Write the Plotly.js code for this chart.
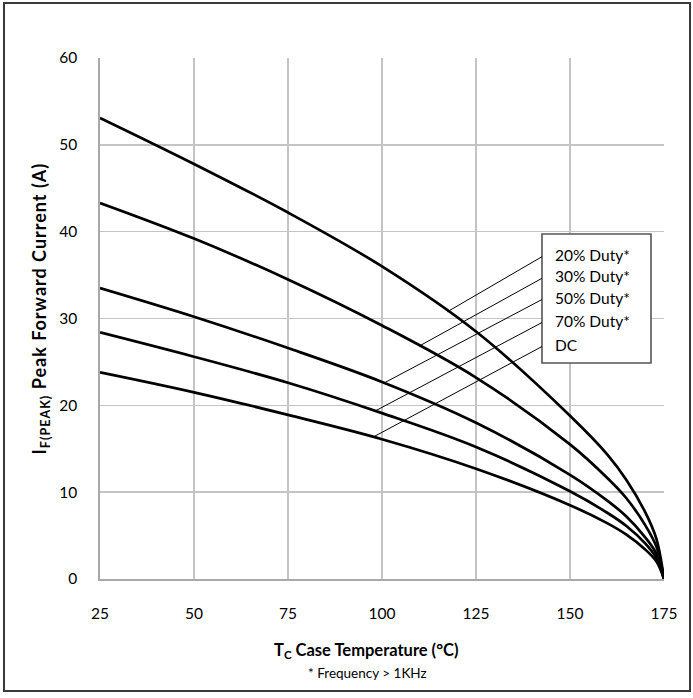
<!DOCTYPE html>
<html>
<head>
<meta charset="utf-8">
<script src="https://cdn.plot.ly/plotly-3.0.1.min.js"></script>
<style>html,body{margin:0;padding:0;background:#fff;}#chart{width:693px;height:698px;}</style>
</head>
<body>
<div id="chart"></div>
<script>
// Case temperature (°C)
const caseTemp = [25, 50, 75, 100, 125, 150, 160, 165, 170, 173, 175];
// Peak forward current (A) per duty cycle
const duty20 = [53.1, 47.8, 42.2, 36.0, 28.5, 18.8, 14.3, 11.4, 7.7, 4.6, 0];
const duty30 = [43.3, 39.2, 34.5, 29.2, 23.2, 15.5, 11.6, 9.3, 6.2, 3.7, 0];
const duty50 = [33.5, 30.2, 26.6, 22.7, 18.0, 12.0, 9.0, 7.2, 4.8, 2.9, 0];
const duty70 = [28.4, 25.6, 22.6, 19.1, 15.2, 10.1, 7.6, 6.1, 4.1, 2.4, 0];
const dutyDC = [23.8, 21.5, 18.9, 16.1, 12.7, 8.5, 6.4, 5.1, 3.4, 2.0, 0];
const seriesNames = ['20% Duty*', '30% Duty*', '50% Duty*', '70% Duty*', 'DC'];
const seriesData = [duty20, duty30, duty50, duty70, dutyDC];
const xTicks = [25, 50, 75, 100, 125, 150, 175];
const yTicks = [0, 10, 20, 30, 40, 50, 60];

const FONT = 'Lato, "Open Sans", sans-serif';

// layout geometry (pixels)
const W = 693, H = 698;
const PL = 100, PR = 664, PT = 58, PB = 579;
const xr = [25, 175], yr = [0, 60];
const px2x = p => xr[0] + (p - PL) * (xr[1] - xr[0]) / (PR - PL);
const py2y = p => yr[0] + (PB - p) * (yr[1] - yr[0]) / (PB - PT);
const px2paper = p => (p - PL) / (PR - PL);
const py2paper = p => (PB - p) / (PB - PT);

function interp(xs, ys, x) {
  for (let i = 0; i < xs.length - 1; i++) {
    if (x >= xs[i] && x <= xs[i + 1]) {
      const t = (x - xs[i]) / (xs[i + 1] - xs[i]);
      return ys[i] + t * (ys[i + 1] - ys[i]);
    }
  }
  return ys[ys.length - 1];
}

const traces = seriesData.map((d, i) => ({
  x: caseTemp, y: d, name: seriesNames[i], type: 'scatter', mode: 'lines',
  line: {color: '#000', width: 2.7, shape: 'spline', smoothing: 1},
  hoverinfo: 'x+y+name'
}));

// legend box & leaders
const boxL = 542, boxR = 651, boxT = 234, boxB = 363;
const entryPy = [256.7, 278.3, 299.5, 322.5, 346.5];
const leaderEndT = [117.4, 109.9, 100.6, 98.2, 97.7];

const shapes = [
  {type: 'rect', xref: 'x', yref: 'y', x0: px2x(boxL), x1: px2x(boxR), y0: py2y(boxB), y1: py2y(boxT),
   fillcolor: '#fff', line: {color: '#555', width: 1.6}, layer: 'above'},
  {type: 'rect', xref: 'paper', yref: 'paper', x0: px2paper(4), x1: px2paper(690), y0: py2paper(691), y1: py2paper(3),
   fillcolor: 'rgba(0,0,0,0)', line: {color: '#3a3a3a', width: 2}, layer: 'above'}
];
const annotations = [];
seriesData.forEach((d, i) => {
  const te = leaderEndT[i];
  shapes.push({type: 'line', xref: 'x', yref: 'y', x0: px2x(boxL), y0: py2y(entryPy[i]),
    x1: te, y1: interp(caseTemp, d, te), line: {color: '#000', width: 1}, layer: 'above'});
  annotations.push({xref: 'x', yref: 'y', x: px2x(553), y: py2y(entryPy[i] - 2), text: seriesNames[i],
    showarrow: false, xanchor: 'left', yanchor: 'middle', font: {family: FONT, size: 15.5, color: '#000'}});
});
annotations.push({xref: 'paper', yref: 'paper', x: px2paper(366), y: py2paper(650), xanchor: 'center', yanchor: 'middle',
  text: '<b>T<sub>C</sub> Case Temperature (°C)</b>', showarrow: false, font: {family: FONT, size: 16.5, color: '#000'}});
annotations.push({xref: 'paper', yref: 'paper', x: px2paper(367), y: py2paper(673), xanchor: 'center', yanchor: 'middle',
  text: '* Frequency > 1KHz', showarrow: false, font: {family: FONT, size: 13.5, color: '#000'}});
annotations.push({xref: 'paper', yref: 'paper', x: px2paper(40), y: py2paper(309), xanchor: 'center', yanchor: 'middle',
  textangle: -90, text: '<b>I<sub>F(PEAK)</sub> Peak Forward Current (A)</b>', showarrow: false,
  font: {family: FONT, size: 18, color: '#000'}});

const layout = {
  width: W, height: H,
  margin: {l: PL, r: W - PR, t: PT, b: H - PB, pad: 0},
  paper_bgcolor: '#fff', plot_bgcolor: '#fff',
  showlegend: false,
  font: {family: FONT, color: '#000'},
  xaxis: {range: xr, tickvals: xTicks, ticktext: xTicks.map(String), showgrid: true, gridcolor: '#c4c4c4', gridwidth: 1.4,
    zeroline: false, showline: true, linecolor: '#a8a8a8', linewidth: 1.6, ticks: '', ticklabelstandoff: 20,
    tickfont: {family: FONT, size: 15.5, color: '#000'}, fixedrange: true},
  yaxis: {range: yr, tickvals: yTicks, ticktext: yTicks.map(String), showgrid: true, gridcolor: '#c4c4c4', gridwidth: 1.4,
    zeroline: false, showline: true, linecolor: '#a8a8a8', linewidth: 1.6, ticks: '', ticklabelstandoff: 18,
    tickfont: {family: FONT, size: 15.5, color: '#000'}, fixedrange: true},
  shapes: shapes,
  annotations: annotations
};

Plotly.newPlot('chart', traces, layout, {displayModeBar: false, staticPlot: true}).then(gd => {
  // widen the rotated y title slightly, like the reference's spacing
  gd.querySelectorAll('.annotation-text').forEach(t => {
    if ((t.textContent || '').indexOf('Peak Forward') >= 0) t.style.letterSpacing = '1px';
  });
});
</script>
</body>
</html>
